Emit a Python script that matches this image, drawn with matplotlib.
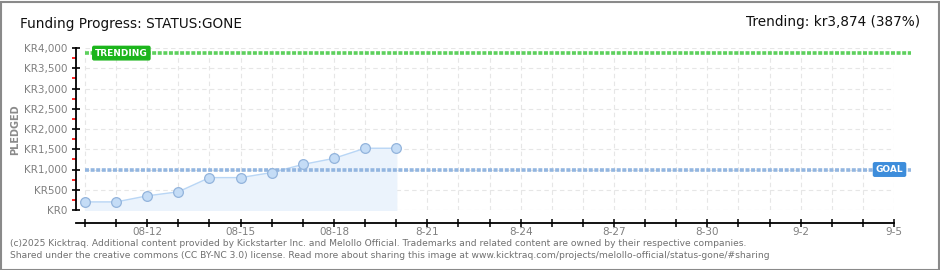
import matplotlib
matplotlib.use("Agg")
import matplotlib.pyplot as plt
from matplotlib.patches import Rectangle
import numpy as np

# data
days = list(range(11))  # 08-10 .. 08-20
pledged = [200, 200, 350, 450, 800, 800, 925, 1125, 1275, 1525, 1525]
trending = 3874
goal = 1000
x_tick_pos = [2, 5, 8, 11, 14, 17, 20, 23, 26]
x_tick_labels = ["08-12", "08-15", "08-18", "8-21", "8-24", "8-27", "8-30", "9-2", "9-5"]
y_ticks = [0, 500, 1000, 1500, 2000, 2500, 3000, 3500, 4000]
y_tick_labels = ["KR0", "KR500", "KR1,000", "KR1,500", "KR2,000", "KR2,500",
                 "KR3,000", "KR3,500", "KR4,000"]

fig = plt.figure(figsize=(9.4, 2.7), dpi=100)
ax = fig.add_axes([76 / 940, 60 / 270, 818 / 940, 162 / 270])
x0, x1 = -0.29, 26
ax.set_xlim(x0, x1)
ax.set_ylim(0, 4000)

# grid
grid_kw = dict(color="#e6e6e6", lw=0.8, linestyle=(0, (4, 3)), zorder=0)
ax.hlines(y_ticks, 0, 26, **grid_kw)
ax.vlines(range(27), 0, 4000, **grid_kw)

# series
ax.fill_between(days, pledged, 0, color="#ebf3fc", zorder=1)
ax.plot(days, pledged, color="#b9d6f5", lw=1, zorder=2)
ax.plot(days, pledged, "o", ms=7, mfc="#c4dcf6", mec="#93b4dc", mew=0.9, zorder=3)

# trending and goal
ax.plot([0, 26.55], [trending, trending], color="#5dd05d", lw=2.6,
        dashes=(1.1, 0.45), clip_on=False, zorder=2)
ax.plot([0, 26.55], [goal, goal], color="#93b6e0", lw=2.6,
        dashes=(1.1, 0.45), clip_on=False, zorder=2)
ax.text(0.32, trending, "TRENDING", color="white", fontsize=6.5, fontweight="bold",
        ha="left", va="center", zorder=5,
        bbox=dict(boxstyle="round,pad=0.25,rounding_size=0.15", fc="#1cb51c", ec="#1cb51c"))
ax.text(26.3, goal, "GOAL", color="white", fontsize=6.5, fontweight="bold",
        ha="right", va="center", zorder=5, clip_on=False,
        bbox=dict(boxstyle="round,pad=0.25,rounding_size=0.15", fc="#3d8ddb", ec="#3d8ddb"))

# axes styling
for s in ["top", "right"]:
    ax.spines[s].set_visible(False)
ax.spines["left"].set_bounds(0, 4000)
ax.spines["bottom"].set_position(("outward", 9))
ax.spines["left"].set_linewidth(1.3)
ax.spines["bottom"].set_linewidth(1.3)

ax.set_yticks(y_ticks)
ax.set_yticklabels(y_tick_labels)
ax.set_yticks(np.arange(250, 4000, 500), minor=True)
ax.tick_params(axis="y", which="major", direction="inout", length=6, width=1.2,
               colors="black", labelcolor="#808080", labelsize=7.5, pad=3)
ax.tick_params(axis="y", which="minor", direction="out", length=3, width=1.2, color="red")

ax.set_xticks(range(27))
ax.set_xticklabels([x_tick_labels[x_tick_pos.index(d)] if d in x_tick_pos else ""
                    for d in range(27)])
ax.tick_params(axis="x", direction="inout", length=6, width=1.1,
               labelcolor="#808080", labelsize=7.5, pad=0)

fig.text(15 / 940, 1 - 130 / 270, "PLEDGED", rotation=90, color="#8a8a8a",
         fontsize=7, fontweight="bold", ha="center", va="center")

# titles
fig.text(20 / 940, 1 - 24 / 270, "Funding Progress: STATUS:GONE", fontsize=9.8,
         color="#111111", ha="left", va="center")
fig.text(920 / 940, 1 - 22 / 270, "Trending: kr3,874 (387%)", fontsize=9.8,
         color="#111111", ha="right", va="center")

# footer
fig.text(10 / 940, 1 - 243 / 270,
         "(c)2025 Kicktraq. Additional content provided by Kickstarter Inc. and Melollo Official. "
         "Trademarks and related content are owned by their respective companies.",
         fontsize=6.6, color="#707070", ha="left", va="center")
fig.text(10 / 940, 1 - 256 / 270,
         "Shared under the creative commons (CC BY-NC 3.0) license. Read more about sharing this "
         "image at www.kicktraq.com/projects/melollo-official/status-gone/#sharing",
         fontsize=6.6, color="#707070", ha="left", va="center")

# border
fig.patches.append(Rectangle((0.5 / 940, 0.5 / 270), 938.5 / 940, 268 / 270,
                             transform=fig.transFigure, fill=False,
                             ec="#8a8a8a", lw=1.5))

fig.savefig("out.png", dpi=100)
